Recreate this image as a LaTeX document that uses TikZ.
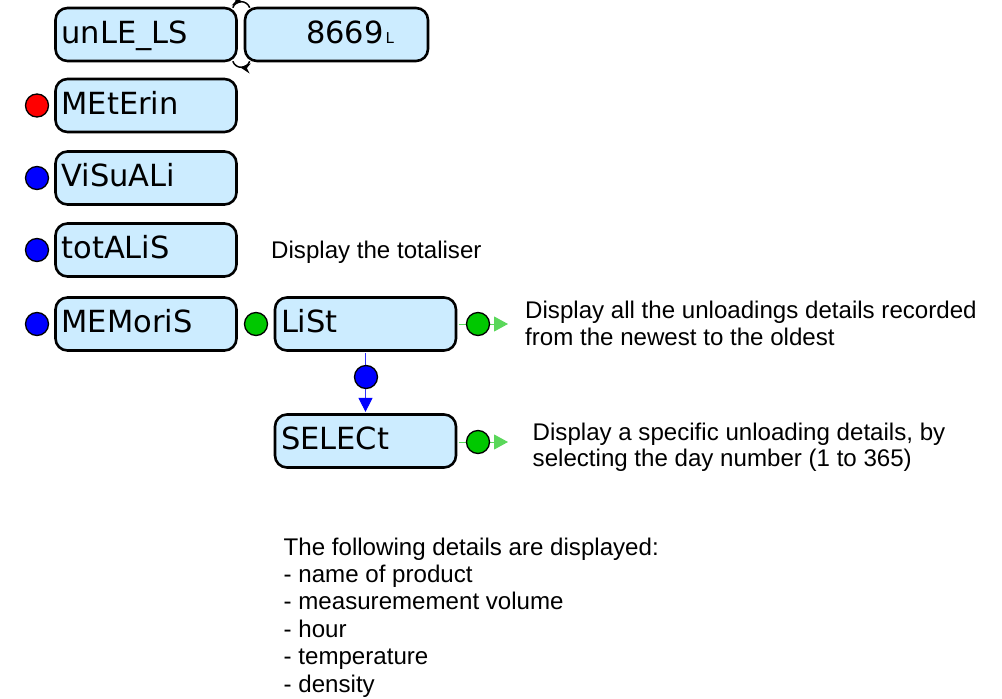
\documentclass[tikz,border=0pt]{standalone}
\usepackage{fontspec}
\setmainfont{Liberation Sans}
\newfontfamily\lcdfont{DejaVu Sans}
\usetikzlibrary{arrows.meta,decorations.markings}
\definecolor{boxfill}{RGB}{204,236,255}
\definecolor{dotgreen}{RGB}{0,200,0}
\definecolor{linegreen}{RGB}{90,215,90}
\definecolor{lineblue}{RGB}{50,50,255}
\begin{document}
\begin{tikzpicture}[x=1pt,y=-1pt,
  menubox/.style={draw=black, line width=2.6pt, rounded corners=12pt, fill=boxfill,
     minimum width=181pt, minimum height=53pt, text width=169pt, inner xsep=6pt, inner ysep=0pt,
     align=left, text height=22pt, text depth=5pt, font=\lcdfont\fontsize{30.5}{34}\selectfont},
  dot/.style={circle, draw=black, line width=1.3pt, minimum size=23pt, inner sep=0pt},
  desc/.style={anchor=base west, align=left, inner sep=0pt, font=\fontsize{24.1}{26.5}\selectfont},
  greenline/.style={draw=linegreen, line width=1pt, -{Triangle[length=14pt,width=15pt,color=linegreen]}},
  blueline/.style={draw=lineblue, line width=1pt, -{Triangle[length=14pt,width=14pt,color=blue]}, shorten >=1.3pt},
  xch/.style={draw=black, line width=1.5pt,
     decoration={markings, mark=at position 0.55 with {\arrow{Stealth[length=10pt,width=10pt]}}},
     postaction={decorate}}
]
\useasboundingbox (0,0) rectangle (1002,699);

% menu boxes
\node[menubox] (unle) at (146,34.5) {unLE\_LS};
\node[menubox, minimum width=183pt, text width=171pt] (val) at (336.5,34.5) {\hspace*{55pt}8669\hspace{2pt}{\fontsize{15}{15}\selectfont L}};
\node[menubox] (meter) at (146,105.5) {MEtErin};
\node[menubox] (visu) at (146,178) {ViSuALi};
\node[menubox] (total) at (146,250) {totALiS};
\node[menubox] (memo) at (146,324) {MEMoriS};
\node[menubox] (list) at (365.5,324) {LiSt};
\node[menubox] (select) at (365.5,441) {SELECt};

% exchange arrows between unLE_LS and value
\draw[xch] ([xshift=-5pt,yshift=-1pt]unle.north east) .. controls +(3,-8) and +(-3,-8) .. ([xshift=6pt,yshift=-1pt]val.north west);
\draw[xch] ([xshift=6pt,yshift=1pt]val.south west) .. controls +(-3,8) and +(3,8) .. ([xshift=-5pt,yshift=1pt]unle.south east);

% connectors
\coordinate (e1) at (508,324);
\coordinate (e2) at (508,442);
\draw[greenline] ([xshift=1.3pt]list.east) -- (e1);
\draw[greenline] ([xshift=1.3pt]select.east |- e2) -- (e2);
\draw[blueline] ([yshift=-1.3pt]list.south) -- (select.north);

% dots
\node[dot, fill=red] (d1) at (37,105.5) {};
\node[dot, fill=blue] (d2) at (37,178) {};
\node[dot, fill=blue] (d3) at (37,250) {};
\node[dot, fill=blue] (d4) at (37,324) {};
\node[dot, fill=dotgreen] (d5) at (256,324) {};
\node[dot, fill=dotgreen] (d6) at (478,324) {};
\node[dot, fill=dotgreen] (d7) at (478,442) {};
\node[dot, fill=blue] (d8) at (366,377) {};

% descriptions (anchor = baseline of the last line)
\node[desc] (t1) at (271,258.5) {Display the totaliser};
\node[desc] (t2) at (525,345) {Display all the unloadings details recorded\\from the newest to the oldest};
\node[desc] (t3) at (532.5,466.5) {Display a specific unloading details, by\\selecting the day number (1 to 365)};
\node[desc, font=\fontsize{24.1}{27.4}\selectfont] (t4) at (283.5,692) {The following details are displayed:\\- name of product\\- measuremement volume\\- hour\\- temperature\\- density};
\end{tikzpicture}
\end{document}
